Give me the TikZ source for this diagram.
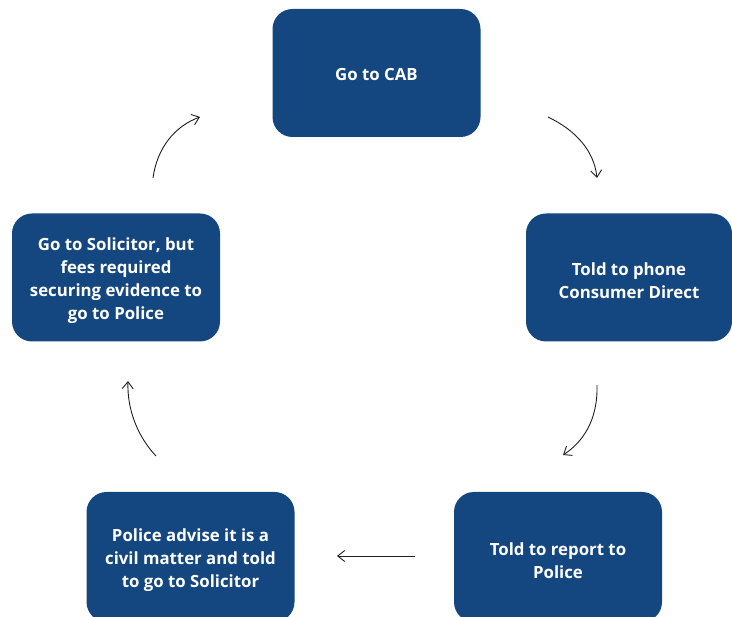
\documentclass[tikz,border=0pt]{standalone}
\usepackage{fontspec}
\setmainfont{Open Sans}
\usetikzlibrary{arrows.meta}
\definecolor{boxblue}{RGB}{20,71,128}
\definecolor{arrowgray}{RGB}{30,30,30}
\newcommand{\drop}{\rule{0pt}{20pt}}
\tikzset{
  stepbox/.style={rectangle, rounded corners=20pt, fill=boxblue, draw=none,
    minimum width=208pt, minimum height=128pt, text=white,
    font=\fontsize{16.8}{23}\selectfont\bfseries, align=center, inner sep=0pt},
  flow/.style={draw=arrowgray, line width=0.9pt,
    -{Straight Barb[length=7pt,width=11pt,line width=0.9pt]}}
}
\begin{document}
\begin{tikzpicture}[x=1pt,y=-1pt]
\useasboundingbox (0,0) rectangle (732,617);
\clip (0,0) rectangle (732,617);
\node[stepbox] (cab) at (376.5,73) {\rule{0pt}{15pt}Go to CAB};
\node[stepbox, minimum width=206pt] (cd) at (629,277.5) {\drop Told to phone\\Consumer Direct};
\node[stepbox] (sol) at (116,277.5) {\drop Go to Solicitor, but\\fees required\\securing evidence to\\go to Police};
\node[stepbox, minimum height=130pt] (pol) at (190.5,557) {\drop Police advise it is a\\civil matter and told\\to go to Solicitor};
\node[stepbox, minimum height=130pt] (rep) at (558,557) {\rule{0pt}{21pt}Told to report to\\Police};

\coordinate (a1s) at (548,117);
\coordinate (a1e) at (597,178);
\coordinate (a2s) at (597,385);
\coordinate (a2e) at (563,455);
\coordinate (a3s) at (415,556);
\coordinate (a3e) at (337,556);
\coordinate (a4s) at (156,456);
\coordinate (a4e) at (128,381);
\coordinate (a5s) at (153,178);
\coordinate (a5e) at (200,117);

\draw[flow] (a1s) .. controls (575,130) and (594,150) .. (a1e);
\draw[flow] (a2s) .. controls (598,420) and (583,442) .. (a2e);
\draw[flow] (a3s) -- (a3e);
\draw[flow] (a4s) .. controls (138,437) and (127,410) .. (a4e);
\draw[flow] (a5s) .. controls (157,148) and (175,126) .. (a5e);
\end{tikzpicture}
\end{document}
